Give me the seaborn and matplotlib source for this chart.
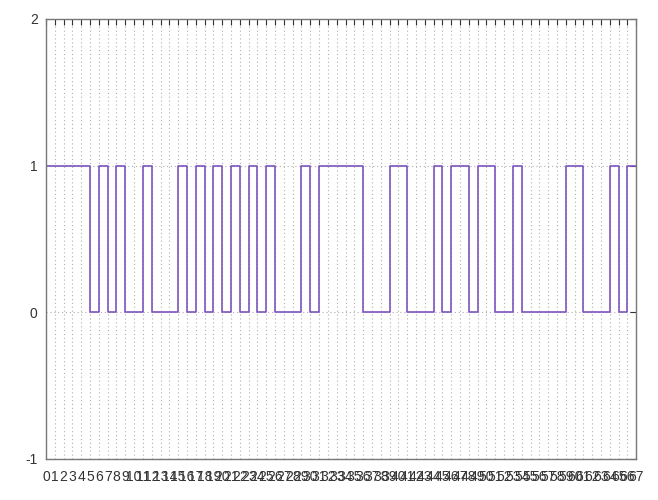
import numpy as np
import pandas as pd
import matplotlib
matplotlib.use("Agg")
import matplotlib.pyplot as plt
import seaborn as sns

# bit sequence, one value per integer step
bits = [1, 1, 1, 1, 1, 0, 1, 0, 1, 0,
        0, 1, 0, 0, 0, 1, 0, 1, 0, 1,
        0, 1, 0, 1, 0, 1, 0, 0, 0, 1,
        0, 1, 1, 1, 1, 1, 0, 0, 0, 1,
        1, 0, 0, 0, 1, 0, 1, 1, 0, 1,
        1, 0, 0, 1, 0, 0, 0, 0, 0, 1,
        1, 0, 0, 0, 1, 0, 1, 1]
positions = list(range(len(bits)))
y_ticks = [-1, 0, 1, 2]

data = pd.DataFrame({"n": positions, "bit": bits})

sns.set_style("white")
plt.rcParams["font.family"] = ["Liberation Sans", "DejaVu Sans"]

fig = plt.figure(figsize=(6.58, 5), dpi=100)
ax = fig.add_axes([0.0699, 0.082, 0.897, 0.880])

# step chart
sns.lineplot(data=data, x="n", y="bit", drawstyle="steps-post",
             color="#7d55bf", linewidth=1.2, ax=ax)

ax.set_xlim(0, positions[-1])
ax.set_ylim(-1, 2)
ax.set_xticks(positions)
ax.set_xticklabels([str(p) for p in positions])
ax.set_yticks(y_ticks)
ax.set_yticklabels([str(t) for t in y_ticks])

# dotted grid like gnuplot
ax.grid(True, linestyle=(0, (1, 2.5)), color="#b0b0b0", linewidth=0.8)

ax.tick_params(axis="both", direction="in", length=4, width=0.8,
               top=True, right=True, labelsize=10, colors="#333333",
               pad=6)
ax.tick_params(axis="x", pad=8)
for s in ax.spines.values():
    s.set_color("#777777")
    s.set_linewidth(1.0)

ax.set_xlabel("")
ax.set_ylabel("")

plt.savefig("out.png", dpi=100)
